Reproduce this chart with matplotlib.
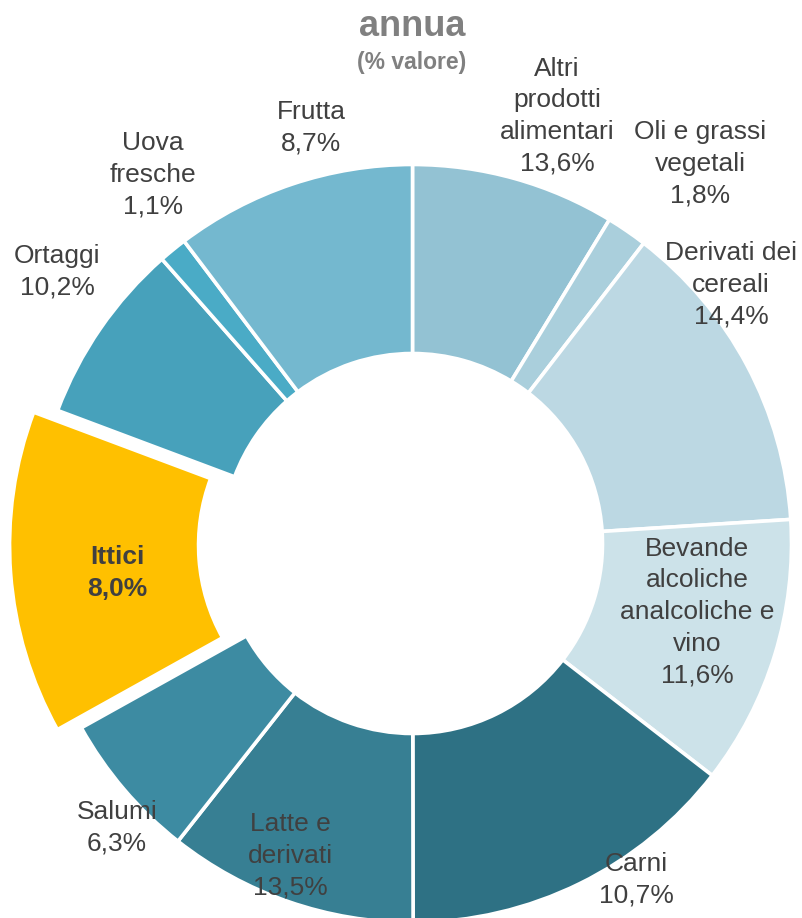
import numpy as np
import matplotlib
matplotlib.use("Agg")
import matplotlib.pyplot as plt

# slices in drawing order (clockwise from 12 o'clock), shares as drawn in the picture (%)
categories = ["Altri prodotti alimentari", "Oli e grassi vegetali", "Derivati dei cereali",
              "Bevande alcoliche analcoliche e vino", "Carni", "Latte e derivati", "Salumi",
              "Ittici", "Ortaggi", "Uova fresche", "Frutta"]
slice_share = [8.7, 1.75, 13.55, 11.5, 14.5, 10.65, 6.3, 13.8, 7.8, 1.2, 10.3]
# label text printed next to each slice
label_text = ["Altri\nprodotti\nalimentari\n13,6%", "Oli e grassi\nvegetali\n1,8%",
              "Derivati dei\ncereali\n14,4%", "Bevande\nalcoliche\nanalcoliche e\nvino\n11,6%",
              "Carni\n10,7%", "Latte e\nderivati\n13,5%", "Salumi\n6,3%", "Ittici\n8,0%",
              "Ortaggi\n10,2%", "Uova\nfresche\n1,1%", "Frutta\n8,7%"]
highlight = "Ittici"

colors = ["#93C2D3", "#AACFDC", "#BCD8E3", "#CCE2E9", "#2E7184", "#377F93", "#3D8BA2",
          "#FFC000", "#47A1BB", "#4AABC6", "#74B8CF"]
# label centres in pixels (x, y from top)
label_pos = [(557, 116), (700, 164), (731, 285), (697, 612), (636, 880), (290, 856),
             (117, 828), (117, 573), (57, 272), (153, 175), (311, 128)]

W, H = 802, 918
fig = plt.figure(figsize=(W / 100, H / 100), dpi=100)
ax = fig.add_axes([0, 0, 1, 1])
ax.set_xlim(0, W)
ax.set_ylim(0, H)
ax.set_aspect("equal")
ax.axis("off")

cx, cy = 412.5, H - 543.5
R_out, R_in = 379.0, 190.0
explode = [24 if c == highlight else 0 for c in categories]

ax.pie(slice_share, colors=colors, startangle=90, counterclock=False,
       center=(cx, cy), radius=R_out, explode=explode,
       wedgeprops=dict(width=R_out - R_in, edgecolor="white", linewidth=2.6))
ax.set_xlim(0, W)
ax.set_ylim(0, H)

plt.rcParams["font.family"] = ["Liberation Sans", "DejaVu Sans"]
for cat, txt, (px, py) in zip(categories, label_text, label_pos):
    bold = cat == highlight
    ax.text(px, H - py, txt, ha="center", va="center", fontsize=19,
            color="#404040", fontweight="bold" if bold else "normal",
            linespacing=1.4, family="Liberation Sans")

ax.text(412, H - 26, "annua", ha="center", va="center", fontsize=26,
        fontweight="bold", color="#808080", family="Liberation Sans")
ax.text(412, H - 63, "(% valore)", ha="center", va="center", fontsize=16.5,
        fontweight="bold", color="#808080", family="Liberation Sans")

fig.savefig("out.png", dpi=100)
